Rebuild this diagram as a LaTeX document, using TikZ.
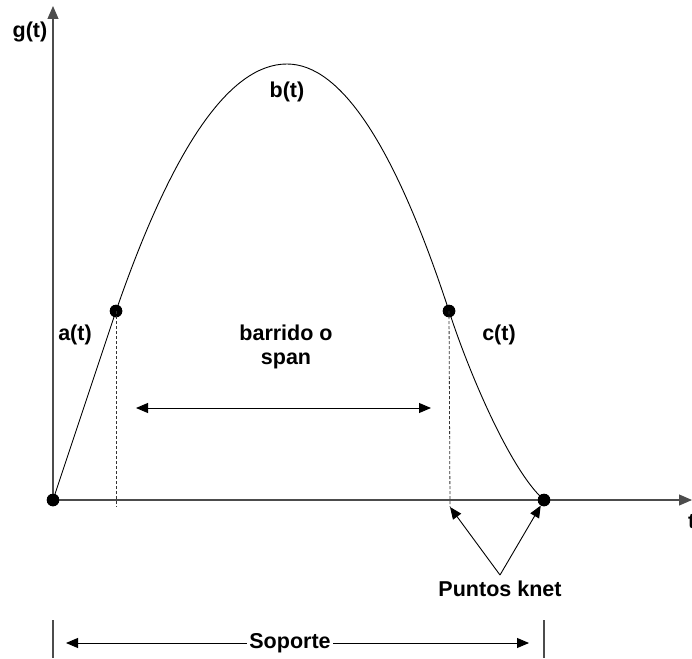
\documentclass[tikz,border=0pt]{standalone}
\usepackage{fontspec}
\setmainfont{Liberation Sans}
\usetikzlibrary{arrows.meta}
\begin{document}
\begin{tikzpicture}[x=1pt,y=-1pt,
  lbl/.style={font=\fontsize{21.5}{24}\selectfont\bfseries, inner sep=0pt, align=center},
  dot/.style={circle, fill=black, minimum size=12.5pt, inner sep=0pt},
  axis/.style={draw=black!70, line width=1.1pt, -{Triangle[length=13pt,width=11pt]}},
  curve/.style={draw=black, line width=0.9pt},
  guide/.style={draw=black!80, line width=0.8pt, dash pattern=on 3pt off 2pt},
  dim/.style={draw=black, line width=0.9pt, {Triangle[length=12pt,width=10pt]}-{Triangle[length=12pt,width=10pt]}},
  ptr/.style={draw=black, line width=0.9pt, -{Triangle[length=12pt,width=10pt]}},
  bar/.style={draw=black!70, line width=1.1pt}]
\useasboundingbox (0,0) rectangle (692,658);
% key points
\node[dot] (O) at (53,500) {};
\node[dot] (K1) at (116,311) {};
\node[dot] (K2) at (449,311) {};
\node[dot] (E) at (544,500) {};
% axes
\coordinate (ytip) at (53,6);
\coordinate (xtip) at (692,500);
\draw[axis] (O.center) -- (ytip);
\draw[axis] (O.center) -- (xtip);
% curve
\draw[curve] (O.center) -- (K1.center)
  .. controls (173,146) and (230,64) .. (287,64)
  .. controls (341,64) and (395,146) .. (K2.center)
  .. controls (468,370) and (510,470) .. (E.center);
% redraw dots on top
\node[dot] at (O) {};
\node[dot] at (K1) {};
\node[dot] at (K2) {};
\node[dot] at (E) {};
% dashed guides
\coordinate (g1) at (116,507);
\coordinate (g2) at (450,507);
\draw[guide] (K1.center) -- (g1);
\draw[guide] (K2.center) -- (g2);
% span arrow
\coordinate (s1) at (136,408);
\coordinate (s2) at (431,408);
\draw[dim] (s1) -- (s2);
% labels
\node[lbl] (gl) at (30,32) {g(t)};
\node[lbl] (bl) at (287,92) {b(t)};
\node[lbl] (al) at (75,335) {a(t)};
\node[lbl] (cl) at (499,335) {c(t)};
\node[lbl] (span) at (286,347) {barrido o\\span};
\node[lbl, anchor=west] (tl) at (688,522) {t};
% puntos knet
\node[lbl] (pk) at (500,589) {Puntos knet};
\coordinate (apex) at (500,575);
\draw[ptr] (apex) -- (g2);
\draw[ptr] (apex) -- (E);
% soporte
\coordinate (b1t) at (53,620);
\coordinate (b1b) at (53,658);
\coordinate (b2t) at (544,620);
\coordinate (b2b) at (544,658);
\draw[bar] (b1t) -- (b1b);
\draw[bar] (b2t) -- (b2b);
\coordinate (sl) at (66,643);
\coordinate (sr) at (529,643);
\draw[dim] (sl) -- (sr);
\node[lbl, fill=white, inner xsep=2pt, inner ysep=1pt] (sop) at (290,643) {Soporte};
\end{tikzpicture}
\end{document}
